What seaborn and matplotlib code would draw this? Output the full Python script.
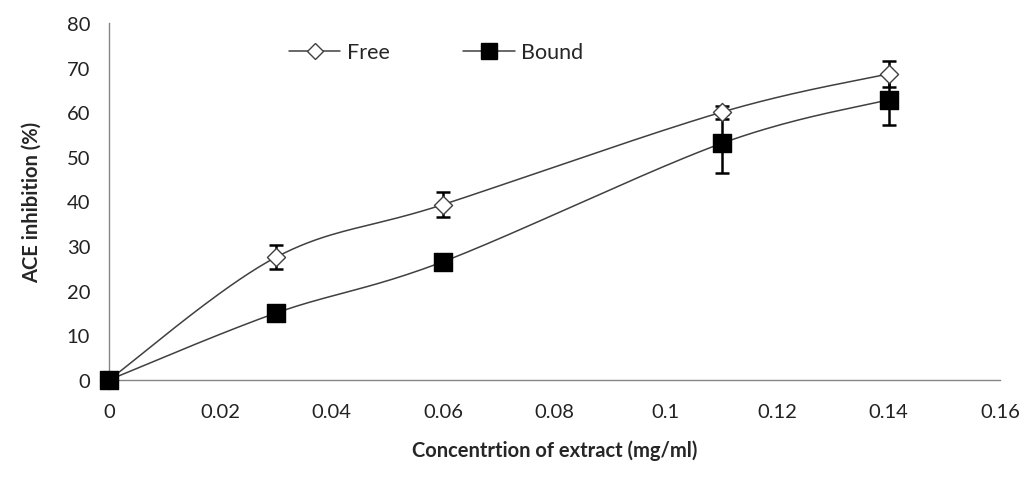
import numpy as np
import pandas as pd
import matplotlib
matplotlib.use("Agg")
import matplotlib.pyplot as plt
import seaborn as sns
from matplotlib.ticker import FuncFormatter, MultipleLocator
from matplotlib.lines import Line2D

conc = [0.0, 0.03, 0.06, 0.11, 0.14]
free = [0.0, 27.5, 39.3, 60.0, 68.6]
free_err = [0.0, 2.7, 2.8, 1.5, 2.9]
bound = [0.0, 15.0, 26.5, 53.0, 62.8]
bound_err = [0.0, 0.5, 0.5, 6.6, 5.6]

sns.set_style("white")
plt.rcParams['font.family'] = ['Lato', 'DejaVu Sans']

fig = plt.figure(figsize=(10.26, 4.89), dpi=100)
ax = fig.add_axes([0.1062, 0.221, 0.8684, 0.730])
ax.set_xlim(0, 0.16)
ax.set_ylim(0, 80)


def smooth(x, y, n=40):
    # Excel-like smoothing (Catmull-Rom Bezier) in display-proportional space
    x = np.asarray(x, float); y = np.asarray(y, float)
    sx, sy = 0.16, 80 * (357 / 891)
    P = np.column_stack([x / sx, y / sy])
    P = np.vstack([P[0], P, P[-1]])
    out = []
    for i in range(1, len(P) - 2):
        p0, p1, p2, p3 = P[i - 1], P[i], P[i + 1], P[i + 2]
        c1 = p1 + (p2 - p0) / 6
        c2 = p2 - (p3 - p1) / 6
        t = np.linspace(0, 1, n)[:, None]
        b = (1 - t) ** 3 * p1 + 3 * (1 - t) ** 2 * t * c1 + 3 * (1 - t) * t ** 2 * c2 + t ** 3 * p2
        out.append(b)
    B = np.vstack(out)
    return B[:, 0] * sx, B[:, 1] * sy

fx, fy = smooth(conc, free)
bx, by = smooth(conc, bound)
ax.plot(fx, fy, color='#404040', lw=1.1, zorder=2, clip_on=False)
ax.plot(bx, by, color='#404040', lw=1.1, zorder=2, clip_on=False)

for y, e in [(free, free_err), (bound, bound_err)]:
    eb = ax.errorbar(conc, y, yerr=e, fmt='none', ecolor='black', elinewidth=1.8,
                     capsize=5, capthick=1.8, zorder=3)
    for art in eb.lines[1] + eb.lines[2]:
        art.set_clip_on(False)

df_f = pd.DataFrame({'x': conc, 'y': free})
df_b = pd.DataFrame({'x': conc, 'y': bound})
sns.scatterplot(data=df_f, x='x', y='y', ax=ax, marker='D', s=85, facecolor='white',
                edgecolor='#404040', linewidth=1.0, zorder=4, clip_on=False)
sns.scatterplot(data=df_b, x='x', y='y', ax=ax, marker='s', s=160, color='black',
                edgecolor='black', zorder=5, clip_on=False)

for s in ['top', 'right']:
    ax.spines[s].set_visible(False)
for s in ['left', 'bottom']:
    ax.spines[s].set_color('#868686')
    ax.spines[s].set_linewidth(1.0)

ax.xaxis.set_major_locator(MultipleLocator(0.02))
ax.yaxis.set_major_locator(MultipleLocator(10))
ax.xaxis.set_major_formatter(FuncFormatter(lambda v, p: ('%.2f' % v).rstrip('0').rstrip('.') if abs(v) > 1e-9 else '0'))
ax.tick_params(axis='both', direction='out', length=6.5, width=1, color='#868686',
               labelsize=14.5, labelcolor='#222222')
ax.tick_params(axis='x', pad=10)
ax.tick_params(axis='y', pad=7)

ax.set_xlabel('Concentrtion of extract (mg/ml)', fontsize=14.5, fontweight='bold', labelpad=14)
ax.set_ylabel('ACE inhibition (%)', fontsize=14.5, fontweight='bold', labelpad=18)

h1 = Line2D([], [], color='#404040', lw=1.1, marker='D', markersize=8.5,
            markerfacecolor='white', markeredgecolor='#404040')
h2 = Line2D([], [], color='#404040', lw=1.1, marker='s', markersize=12,
            markerfacecolor='black', markeredgecolor='black')
ax.legend([h1, h2], ['Free', 'Bound'], loc='upper left', bbox_to_anchor=(0.18, 1.0), ncol=2,
          frameon=False, fontsize=15.5, handlelength=2.4, columnspacing=3.4, handletextpad=0.3)

fig.savefig('out.png', dpi=100)
